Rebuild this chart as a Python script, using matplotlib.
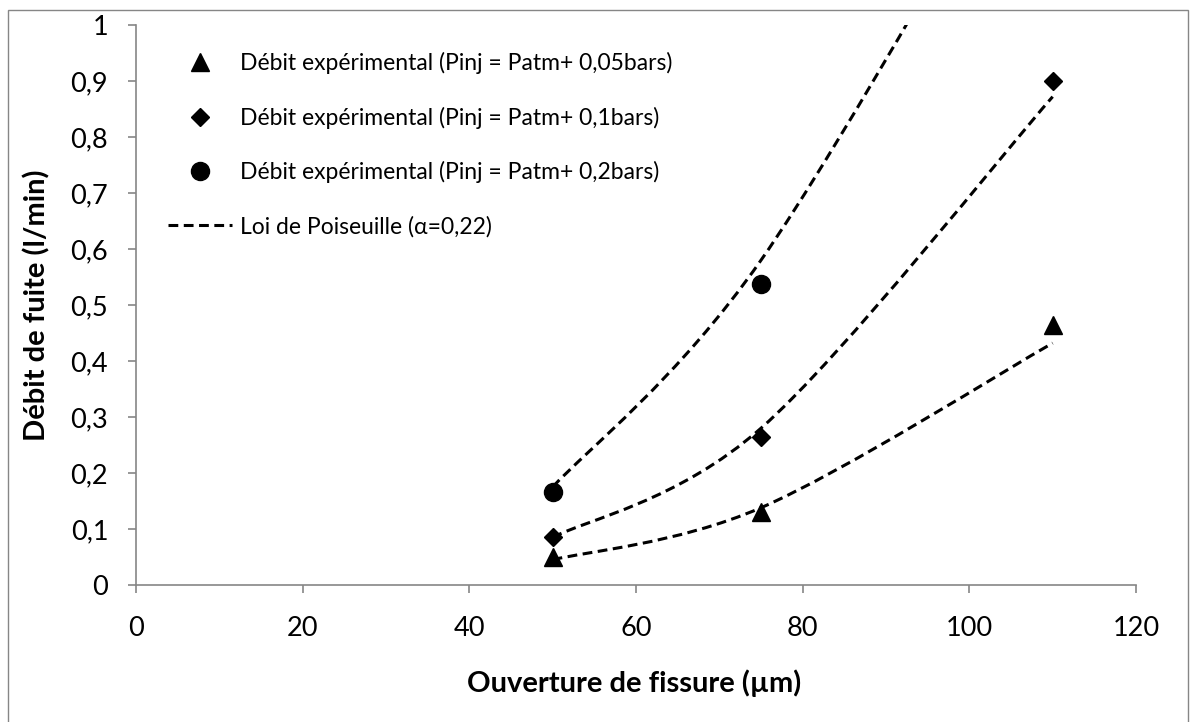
import matplotlib
matplotlib.use("Agg")
import matplotlib.pyplot as plt
from matplotlib.lines import Line2D
from matplotlib.patches import PathPatch, Rectangle
from matplotlib.path import Path
from matplotlib.ticker import FuncFormatter, MultipleLocator

plt.rcParams["font.family"] = ["Lato", "DejaVu Sans"]

# Ouverture de fissure (µm)
ouverture = [50, 75, 110]
ouverture_02 = [50, 75]

# Debits mesures (l/min)
debit_005 = [0.05, 0.13, 0.465]
debit_01 = [0.086, 0.264, 0.90]
debit_02 = [0.166, 0.537]

# Loi de Poiseuille (alpha = 0.22)
poiseuille_005 = [0.045, 0.138, 0.432]
poiseuille_01 = [0.085, 0.28, 0.872]
poiseuille_02 = [0.175, 0.58, 1.453]

labels = [
    "Débit expérimental (Pinj = Patm+ 0,05bars)",
    "Débit expérimental (Pinj = Patm+ 0,1bars)",
    "Débit expérimental (Pinj = Patm+ 0,2bars)",
    "Loi de Poiseuille (α=0,22)",
]

GRIS = "#868686"
DASH = (0, (3.2, 1.8))


def courbe_lissee(xs, ys):
    # Lissage type tableur: Bezier cubique avec points de controle Catmull-Rom.
    pts = list(zip(xs, ys))
    verts = [pts[0]]
    codes = [Path.MOVETO]
    for i in range(len(pts) - 1):
        p0 = pts[i - 1] if i > 0 else pts[i]
        p1 = pts[i]
        p2 = pts[i + 1]
        p3 = pts[i + 2] if i + 2 < len(pts) else pts[i + 1]
        c1 = (p1[0] + (p2[0] - p0[0]) / 6, p1[1] + (p2[1] - p0[1]) / 6)
        c2 = (p2[0] - (p3[0] - p1[0]) / 6, p2[1] - (p3[1] - p1[1]) / 6)
        verts += [c1, c2, p2]
        codes += [Path.CURVE4] * 3
    return Path(verts, codes)


fig = plt.figure(figsize=(11.9, 7.22), dpi=100)
ax = fig.add_axes([136 / 1190, 1 - 585 / 722, 1000 / 1190, 560 / 722])

# Cadre de la zone de graphique
fig.patches.append(Rectangle((8 / 1190, -0.1), 1180 / 1190, 1.1 - 10 / 722,
                             transform=fig.transFigure, fill=False,
                             edgecolor=GRIS, linewidth=1.0))

for ys in (poiseuille_005, poiseuille_01, poiseuille_02):
    ax.add_patch(PathPatch(courbe_lissee(ouverture, ys), facecolor="none",
                           edgecolor="black", linewidth=2.2, linestyle=DASH,
                           capstyle="butt", zorder=2))

h1, = ax.plot(ouverture, debit_005, linestyle="none", marker="^",
              markersize=12.5, color="black", zorder=3)
h2, = ax.plot(ouverture, debit_01, linestyle="none", marker="D",
              markersize=9, color="black", zorder=3)
h3, = ax.plot(ouverture_02, debit_02, linestyle="none", marker="o",
              markersize=13, color="black", zorder=3)
h4 = Line2D([], [], color="black", linewidth=2.2, linestyle=DASH,
            dash_capstyle="butt")

ax.set_xlim(0, 120)
ax.set_ylim(0, 1)
ax.xaxis.set_major_locator(MultipleLocator(20))
ax.yaxis.set_major_locator(MultipleLocator(0.1))
ax.yaxis.set_major_formatter(FuncFormatter(
    lambda v, _: f"{round(v, 2):g}".replace(".", ",")))

for side in ("top", "right"):
    ax.spines[side].set_visible(False)
for side in ("left", "bottom"):
    ax.spines[side].set_color(GRIS)
    ax.spines[side].set_linewidth(1.2)

ax.tick_params(axis="both", direction="out", length=6, width=1.2,
               color=GRIS, labelsize=19.5, labelcolor="black")
ax.tick_params(axis="y", pad=14)
ax.tick_params(axis="x", pad=16)

ax.set_xlabel("Ouverture de fissure (µm)", fontsize=21, fontweight="bold")
ax.xaxis.set_label_coords(0.498, -0.150)
ax.set_ylabel("Débit de fuite (l/min)", fontsize=21, fontweight="bold")
ax.yaxis.set_label_coords(-0.086, 0.5)

ax.legend([h1, h2, h3, h4], labels, loc="upper left",
          bbox_to_anchor=(0.032, 0.952), frameon=False, fontsize=16.5,
          handlelength=2.8, handletextpad=0.35, labelspacing=1.42,
          borderpad=0, borderaxespad=0)

fig.savefig("out.png", dpi=100)
